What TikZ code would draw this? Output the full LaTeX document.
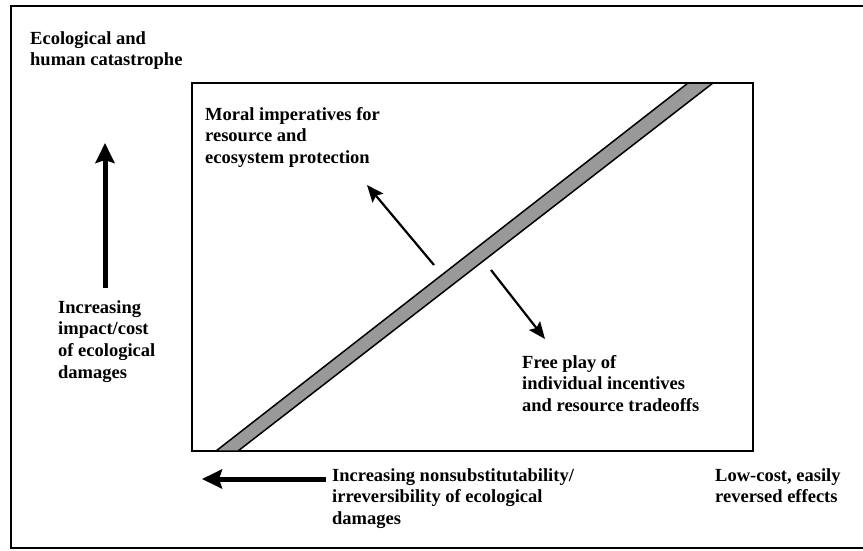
\documentclass[tikz,border=0pt]{standalone}
\usepackage{fontspec}
\setmainfont{Liberation Serif}
\usetikzlibrary{arrows.meta}
\definecolor{bandgray}{RGB}{153,153,153}
\tikzstyle{labeltext} = [anchor=north west, inner sep=0pt, align=left, font=\bfseries\fontsize{18.5}{21.7}\selectfont]
\tikzstyle{bigarrow} = [line width=5pt,-{Stealth[length=20pt,width=19pt,inset=3pt]}]
\tikzstyle{thinarrow} = [line width=2.2pt,-{Stealth[length=17pt,width=14pt,inset=3pt]}]
\tikzstyle{frame} = [line width=2.5pt]

\begin{document}
\begin{tikzpicture}[x=1pt,y=-1pt]
\useasboundingbox (0,0) rectangle (863,550);

% outer frame (open on the right)
\draw [frame] (863,6) -- (11,6) -- (11,548) -- (863,548);
% inner box
\draw [line width=2pt] (192,83) rectangle (753,451);
% diagonal band
\draw [line width=1.5pt, fill=bandgray] (216,451) -- (238,451) -- (713,83) -- (688,83) -- cycle;

\node (eco)    [labeltext] at (30,31)   {Ecological and\\human catastrophe};
\node (impact) [labeltext] at (58,300)  {Increasing\\impact/cost\\of ecological\\damages};
\node (moral)  [labeltext] at (205,107) {Moral imperatives for\\resource and\\ecosystem protection};
\node (free)   [labeltext] at (522,355) {Free play of\\individual incentives\\and resource tradeoffs};
\node (irrev)  [labeltext] at (332,468) {Increasing nonsubstitutability/\\irreversibility of ecological\\damages};
\node (low)    [labeltext] at (715,468) {Low-cost, easily\\reversed effects};

\coordinate (vtail) at (105,288);
\coordinate (vtip)  at (105,143);
\coordinate (htail) at (326,479);
\coordinate (htip)  at (202,479);
\coordinate (ultail) at (434,265);
\coordinate (ultip)  at (367,185);
\coordinate (drtail) at (491,270);
\coordinate (drtip)  at (545,339);

\draw [bigarrow] (vtail) -- (vtip);
\draw [bigarrow] (htail) -- (htip);
\draw [thinarrow] (ultail) -- (ultip);
\draw [thinarrow] (drtail) -- (drtip);
\end{tikzpicture}
\end{document}
